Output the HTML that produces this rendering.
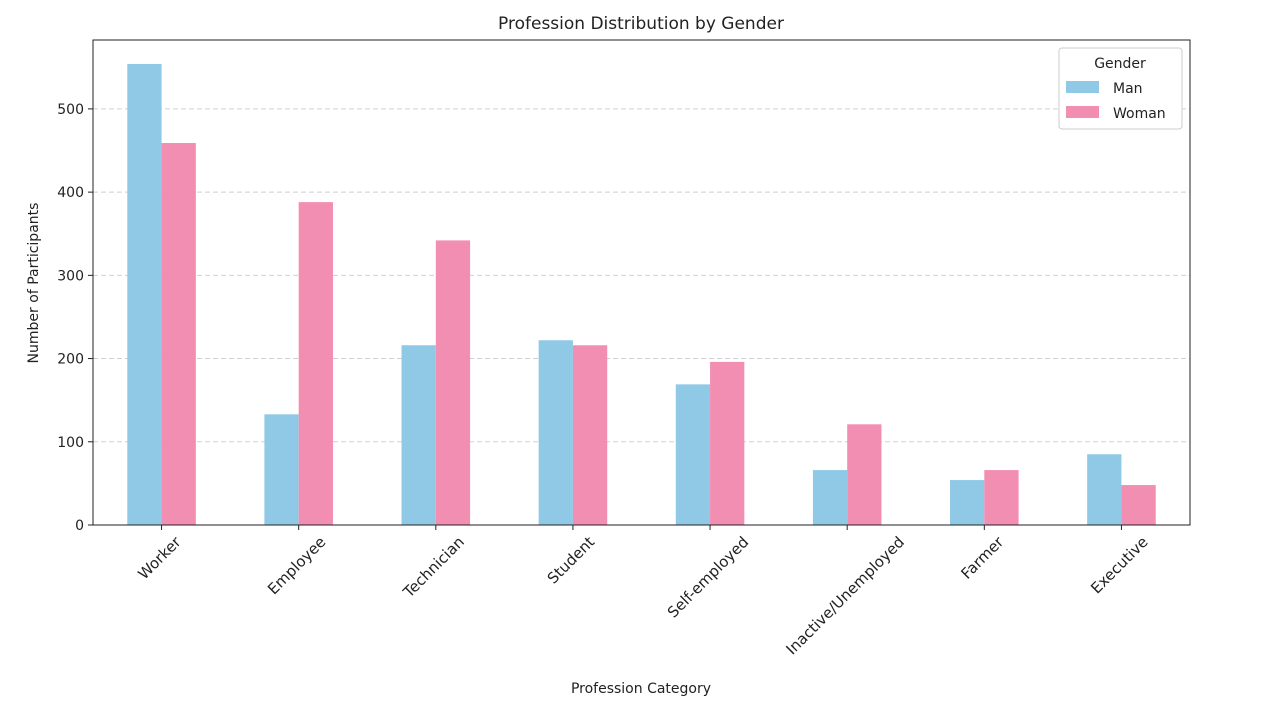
<!DOCTYPE html>
<html><head><meta charset="utf-8">
<style>
body{margin:0;background:#fff;font-family:"Liberation Sans","DejaVu Sans",sans-serif;}
svg text{font-family:"DejaVu Sans","Liberation Sans",sans-serif;fill:#222;}
</style></head>
<body>
<svg id="chart" width="1261" height="703" xmlns="http://www.w3.org/2000/svg">
<text x="641" y="29" text-anchor="middle" font-size="17">Profession Distribution by Gender</text>
<g id="grid"></g>
<g id="bars"></g>
<rect x="93" y="40" width="1097" height="485" fill="none" stroke="#222" stroke-width="1"/>
<g id="yaxis"></g>
<g id="xaxis"></g>
<text transform="translate(38,283) rotate(-90)" text-anchor="middle" font-size="14">Number of Participants</text>
<text x="641" y="693" text-anchor="middle" font-size="14">Profession Category</text>
<g>
<rect x="1059" y="48" width="123" height="81" rx="3" fill="#fff" stroke="#ccc"/>
<text x="1120" y="68" text-anchor="middle" font-size="14">Gender</text>
<rect x="1066" y="81" width="33" height="12" fill="#8fc9e6"/>
<text x="1113" y="93" font-size="14">Man</text>
<rect x="1066" y="106" width="33" height="12" fill="#f28eb2"/>
<text x="1113" y="118" font-size="14">Woman</text>
</g>
</svg>
<script>
const categories=["Worker","Employee","Technician","Student","Self-employed","Inactive/Unemployed","Farmer","Executive"];
const manValues=[554,133,216,222,169,66,54,85];
const womanValues=[459,388,342,216,196,121,66,48];
const yTicks=[0,100,200,300,400,500];
const NS="http://www.w3.org/2000/svg";
const X0=93,X1=1190,Y0=525,YMAX=582.8,PH=485;
const band=(X1-X0)/categories.length;
function y(v){return Y0-v/YMAX*PH;}
function xc(i){return X0+band*(i+0.5);}
function mk(tag,attrs,parent){const e=document.createElementNS(NS,tag);for(const k in attrs)e.setAttribute(k,attrs[k]);parent.appendChild(e);return e;}
const grid=document.getElementById('grid'),bars=document.getElementById('bars'),ya=document.getElementById('yaxis'),xa=document.getElementById('xaxis');
yTicks.forEach(t=>{
  const l=mk('line',{x1:X0,x2:X1,y1:y(t),y2:y(t),stroke:'#d0d0d0','stroke-dasharray':'5,3'},grid);
  
  
  const tk=mk('line',{x1:X0-5,x2:X0,y1:y(t),y2:y(t),stroke:'#222'},ya);
  
  
  const tx=mk('text',{x:X0-9,y:y(t)+5,'text-anchor':'end','font-size':'14'},ya);
  tx.textContent=t;
  
  
});
const bw=band*0.25;
categories.forEach((c,i)=>{
  const cx=xc(i);
  const m=mk('rect',{x:cx-bw,y:y(manValues[i]),width:bw,height:Y0-y(manValues[i]),fill:'#8fc9e6'},bars);
  
  
  const w=mk('rect',{x:cx,y:y(womanValues[i]),width:bw,height:Y0-y(womanValues[i]),fill:'#f28eb2'},bars);
  
  
  const tk=mk('line',{x1:cx,x2:cx,y1:Y0,y2:Y0+5,stroke:'#222'},xa);
  
  
  const tx=mk('text',{x:0,y:5,'text-anchor':'middle','font-size':'15'},xa);
  tx.textContent=c;
  
  
  const L=tx.getComputedTextLength();
  const cy=Y0+9+(L+15)*0.7071/2;
  tx.setAttribute('transform',`translate(${cx-2},${cy}) rotate(-45)`);
});
</script>
</body></html>
